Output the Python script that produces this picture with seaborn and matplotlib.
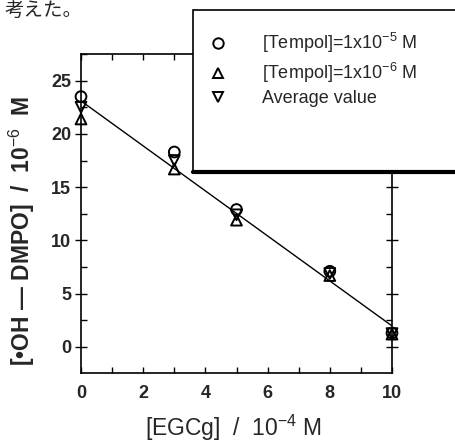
import numpy as np
import pandas as pd
import seaborn as sns
import matplotlib
matplotlib.use("Agg")
import matplotlib.pyplot as plt
from matplotlib.lines import Line2D
from matplotlib.patches import Rectangle
from matplotlib.ticker import MultipleLocator

egcg = [0, 3, 5, 8, 10]
tempol_1e5 = [23.5, 18.3, 12.9, 7.1, 1.3]
tempol_1e6 = [21.4, 16.7, 11.9, 6.7, 1.2]
average = [22.5, 17.5, 12.4, 6.9, 1.25]
legend_labels = ["[Tempol]=1x10$^{-5}$ M", "[Tempol]=1x10$^{-6}$ M", "Average value"]
xlabel = "[EGCg]  /  10$^{-4}$ M"
ylabel = "[•OH — DMPO]  /  10$^{-6}$  M"

sns.set_theme(style="ticks")
plt.rcParams['font.family'] = ['Liberation Sans', 'DejaVu Sans']
plt.rcParams['mathtext.fontset'] = 'custom'
plt.rcParams['mathtext.rm'] = 'Liberation Sans'
plt.rcParams['mathtext.bf'] = 'Liberation Sans:bold'

df = pd.DataFrame({"x": egcg, "a": tempol_1e5, "b": tempol_1e6, "avg": average})

fig = plt.figure(figsize=(4.55, 4.43), dpi=100)
ax = fig.add_axes([81/455, 1-373/443, (392-81)/455, (373-54)/443])

sns.regplot(data=df, x="x", y="avg", ax=ax, ci=None, scatter=False,
            line_kws=dict(color="black", lw=1.0))
ms = 60
for col, mk in [("a", "o"), ("b", "^"), ("avg", "v")]:
    sns.scatterplot(data=df, x="x", y=col, ax=ax, marker=mk, s=ms, facecolor="none",
                    edgecolor="black", linewidth=1.4, zorder=3, clip_on=False)

ax.set_xlim(0, 10)
ax.set_ylim(-2.45, 27.5)
ax.xaxis.set_major_locator(MultipleLocator(2))
ax.xaxis.set_minor_locator(MultipleLocator(1))
ax.yaxis.set_major_locator(MultipleLocator(5))
ax.yaxis.set_minor_locator(MultipleLocator(2.5))
ax.tick_params(axis='x', which='both', direction='in', top=True, bottom=True,
               length=4, width=1, color='black', labelsize=13, pad=9)
ax.tick_params(axis='y', which='major', direction='inout', left=True, right=True,
               length=8, width=1, color='black', labelsize=13, pad=3)
ax.tick_params(axis='y', which='minor', direction='in', left=True, right=True,
               length=4, width=1, color='black')
for lab in ax.get_xticklabels() + ax.get_yticklabels():
    lab.set_fontweight('bold')
for s in ax.spines.values():
    s.set_color('black')
    s.set_linewidth(1.2)

ax.set_xlabel(xlabel, fontsize=16.5)
ax.set_ylabel(ylabel, fontsize=16.5, fontweight='bold')
ax.xaxis.set_label_coords((233.5 - 81)/311, -(428 - 373)/319)
ax.xaxis.label.set_va('center')
ax.yaxis.label.set_va('center')
ax.yaxis.set_label_coords(-(81-22)/311, (373-231)/319)

# legend panel
rect = Rectangle((193/455, 1-171/443), 1.0, 161/443, transform=fig.transFigure,
                 facecolor='white', edgecolor='black', lw=1.2, zorder=5, clip_on=False)
fig.patches.append(rect)
fig.add_artist(Line2D([193/455, 1.0], [1-172/443, 1-172/443], transform=fig.transFigure,
                      color='black', lw=3, zorder=6))
handles = [Line2D([], [], ls='', marker=m, ms=7.5, mfc='none', mec='black', mew=1.4)
           for m in ['o', '^', 'v']]
leg = fig.legend(handles, legend_labels, loc='upper left',
                 bbox_to_anchor=(193/455, 1-15/443), frameon=False,
                 handlelength=1.0, handletextpad=1.9, labelspacing=0.3,
                 prop={'family': ['Liberation Sans', 'DejaVu Sans'], 'size': 13})
leg.set_zorder(7)

fig.text(5/455, 1-10/443, "考えた。", fontsize=14, va='center', ha='left',
         family=['Noto Sans CJK JP', 'DejaVu Sans'])

fig.savefig("out.png", dpi=100)
